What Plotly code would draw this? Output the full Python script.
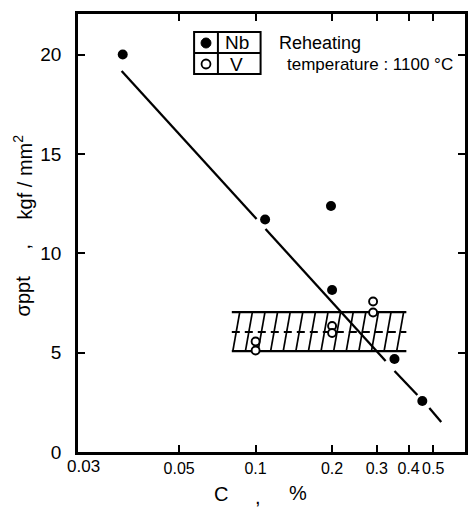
import numpy as np
import plotly.graph_objects as go

# ---------------- data ----------------
nb_c = [0.030, 0.109, 0.198, 0.200, 0.352, 0.453]
nb_sigma = [20.0, 11.70, 12.38, 8.15, 4.68, 2.57]

v_c = [0.1, 0.1, 0.2, 0.2, 0.29, 0.29]
v_sigma = [5.56, 5.11, 6.34, 5.99, 7.57, 7.02]

# regression line, drawn with small gaps next to the Nb points
fit_c = [0.0297, 0.1009, None, 0.1094, 0.3249, None, 0.3522, 0.4331, None, 0.4828, 0.5377]
fit_sigma = [19.17, 11.72, None, 11.22, 4.58, None, 4.08, 2.87, None, 2.21, 1.51]

# hatched scatter band for V
band_c = [0.0806, 0.392]
band_low, band_mid, band_high = 5.08, 6.04, 7.04

x_tick_vals = [0.05, 0.1, 0.2, 0.3, 0.4, 0.5]
x_tick_text = ["0.05", "0.1", "0.2", "0.3", "0.4", "0.5"]
y_tick_vals = [0, 5, 10, 15, 20]
x_range = [0.02, 0.667]
y_range = [0, 22.04]

# ---------------- layout geometry ----------------
W, H = 470, 507
ML, MR, MT, MB = 78, 2, 14, 55
PW, PH = W - ML - MR, H - MT - MB
FONT = "Liberation Sans"


def px(xp):
    return (xp - ML) / PW


def py(yp):
    return (H - MB - yp) / PH


fig = go.Figure()

# hatch lines of the band
L0, L1 = np.log10(band_c)
step = 12.7 / 256
slant = 7.0 / 256
hx, hy = [], []
Lb = L0 + 0.004
while Lb < L1 - 0.002:
    Lt = Lb + slant
    yt = band_high
    if Lt > L1:
        yt = band_low + (band_high - band_low) * (L1 - Lb) / slant
        Lt = L1
    hx += [10 ** Lb, 10 ** Lt, None]
    hy += [band_low, yt, None]
    Lb += step
fig.add_trace(go.Scatter(x=hx, y=hy, mode="lines", line=dict(color="black", width=1.7),
                         hoverinfo="skip", showlegend=False))
# band borders
fig.add_trace(go.Scatter(x=[band_c[0], band_c[1], None, band_c[0], band_c[1]],
                         y=[band_low, band_low, None, band_high, band_high],
                         mode="lines", line=dict(color="black", width=2.2),
                         hoverinfo="skip", showlegend=False))
fig.add_trace(go.Scatter(x=band_c, y=[band_mid, band_mid], mode="lines",
                         line=dict(color="black", width=2, dash="8px,5px"),
                         hoverinfo="skip", showlegend=False))

# regression line
fig.add_trace(go.Scatter(x=fit_c, y=fit_sigma, mode="lines",
                         line=dict(color="black", width=2.3),
                         connectgaps=False, hoverinfo="skip", showlegend=False))

# V points (open)
fig.add_trace(go.Scatter(x=v_c, y=v_sigma, mode="markers", name="V",
                         marker=dict(symbol="circle", size=8, color="white",
                                     line=dict(color="black", width=1.9)),
                         showlegend=False))
# Nb points (filled)
fig.add_trace(go.Scatter(x=nb_c, y=nb_sigma, mode="markers", name="Nb",
                         marker=dict(symbol="circle", size=10, color="black"),
                         showlegend=False))

shapes = []
# legend box
lw = 2
shapes.append(dict(type="rect", xref="paper", yref="paper", x0=px(195), x1=px(262),
                   y0=py(74), y1=py(32), line=dict(color="black", width=lw)))
shapes.append(dict(type="line", xref="paper", yref="paper", x0=px(219), x1=px(219),
                   y0=py(74), y1=py(32), line=dict(color="black", width=lw)))
shapes.append(dict(type="line", xref="paper", yref="paper", x0=px(195), x1=px(262),
                   y0=py(53), y1=py(53), line=dict(color="black", width=lw)))
shapes.append(dict(type="circle", xref="paper", yref="paper", x0=px(202), x1=px(212),
                   y0=py(48), y1=py(38), fillcolor="black", line=dict(color="black", width=1)))
shapes.append(dict(type="circle", xref="paper", yref="paper", x0=px(202.5), x1=px(211.5),
                   y0=py(68.5), y1=py(59.5), fillcolor="white", line=dict(color="black", width=1.8)))

ann = []


def text(t, x, y, size=19, xanchor="center", angle=0, yanchor="middle"):
    ann.append(dict(text=t, x=px(x), y=py(y), xref="paper", yref="paper", showarrow=False,
                    xanchor=xanchor, yanchor=yanchor, textangle=angle,
                    font=dict(family=FONT, size=size, color="black")))


text("Nb", 238, 43, 19)
text("V", 238, 64, 19)
text("Reheating", 279, 43, 18, xanchor="left")
text("temperature : 1100 °C", 287, 64, 17, xanchor="left")
# corner tick label of the x axis
text("0.03", 84, 467, 17)
# y title
text("σppt", 23, 296, 20, angle=-90)
text(",", 23, 246, 20, angle=-90)
text("kgf / mm<sup>2</sup>", 22, 177, 20, angle=-90)
# x title
text("C", 222, 494, 20)
text(",", 259, 497, 20)
text("%", 300, 493, 20)

axis_common = dict(showline=True, linecolor="black", linewidth=2.5, mirror="ticks",
                   ticks="inside", ticklen=7, tickwidth=2, tickcolor="black",
                   showgrid=False, zeroline=False)

fig.update_layout(
    width=W, height=H,
    margin=dict(l=ML, r=MR, t=MT, b=MB, pad=0),
    paper_bgcolor="white", plot_bgcolor="white",
    xaxis=dict(type="log", range=[np.log10(x_range[0]), np.log10(x_range[1])],
               tickvals=x_tick_vals, ticktext=x_tick_text, tickangle=0,
               tickfont=dict(family=FONT, size=16, color="black"), **axis_common),
    yaxis=dict(range=y_range, tickvals=y_tick_vals, ticklabelstandoff=10,
               tickfont=dict(family=FONT, size=19, color="black"), **axis_common),
    shapes=shapes, annotations=ann,
)

fig.write_html("out.html")
